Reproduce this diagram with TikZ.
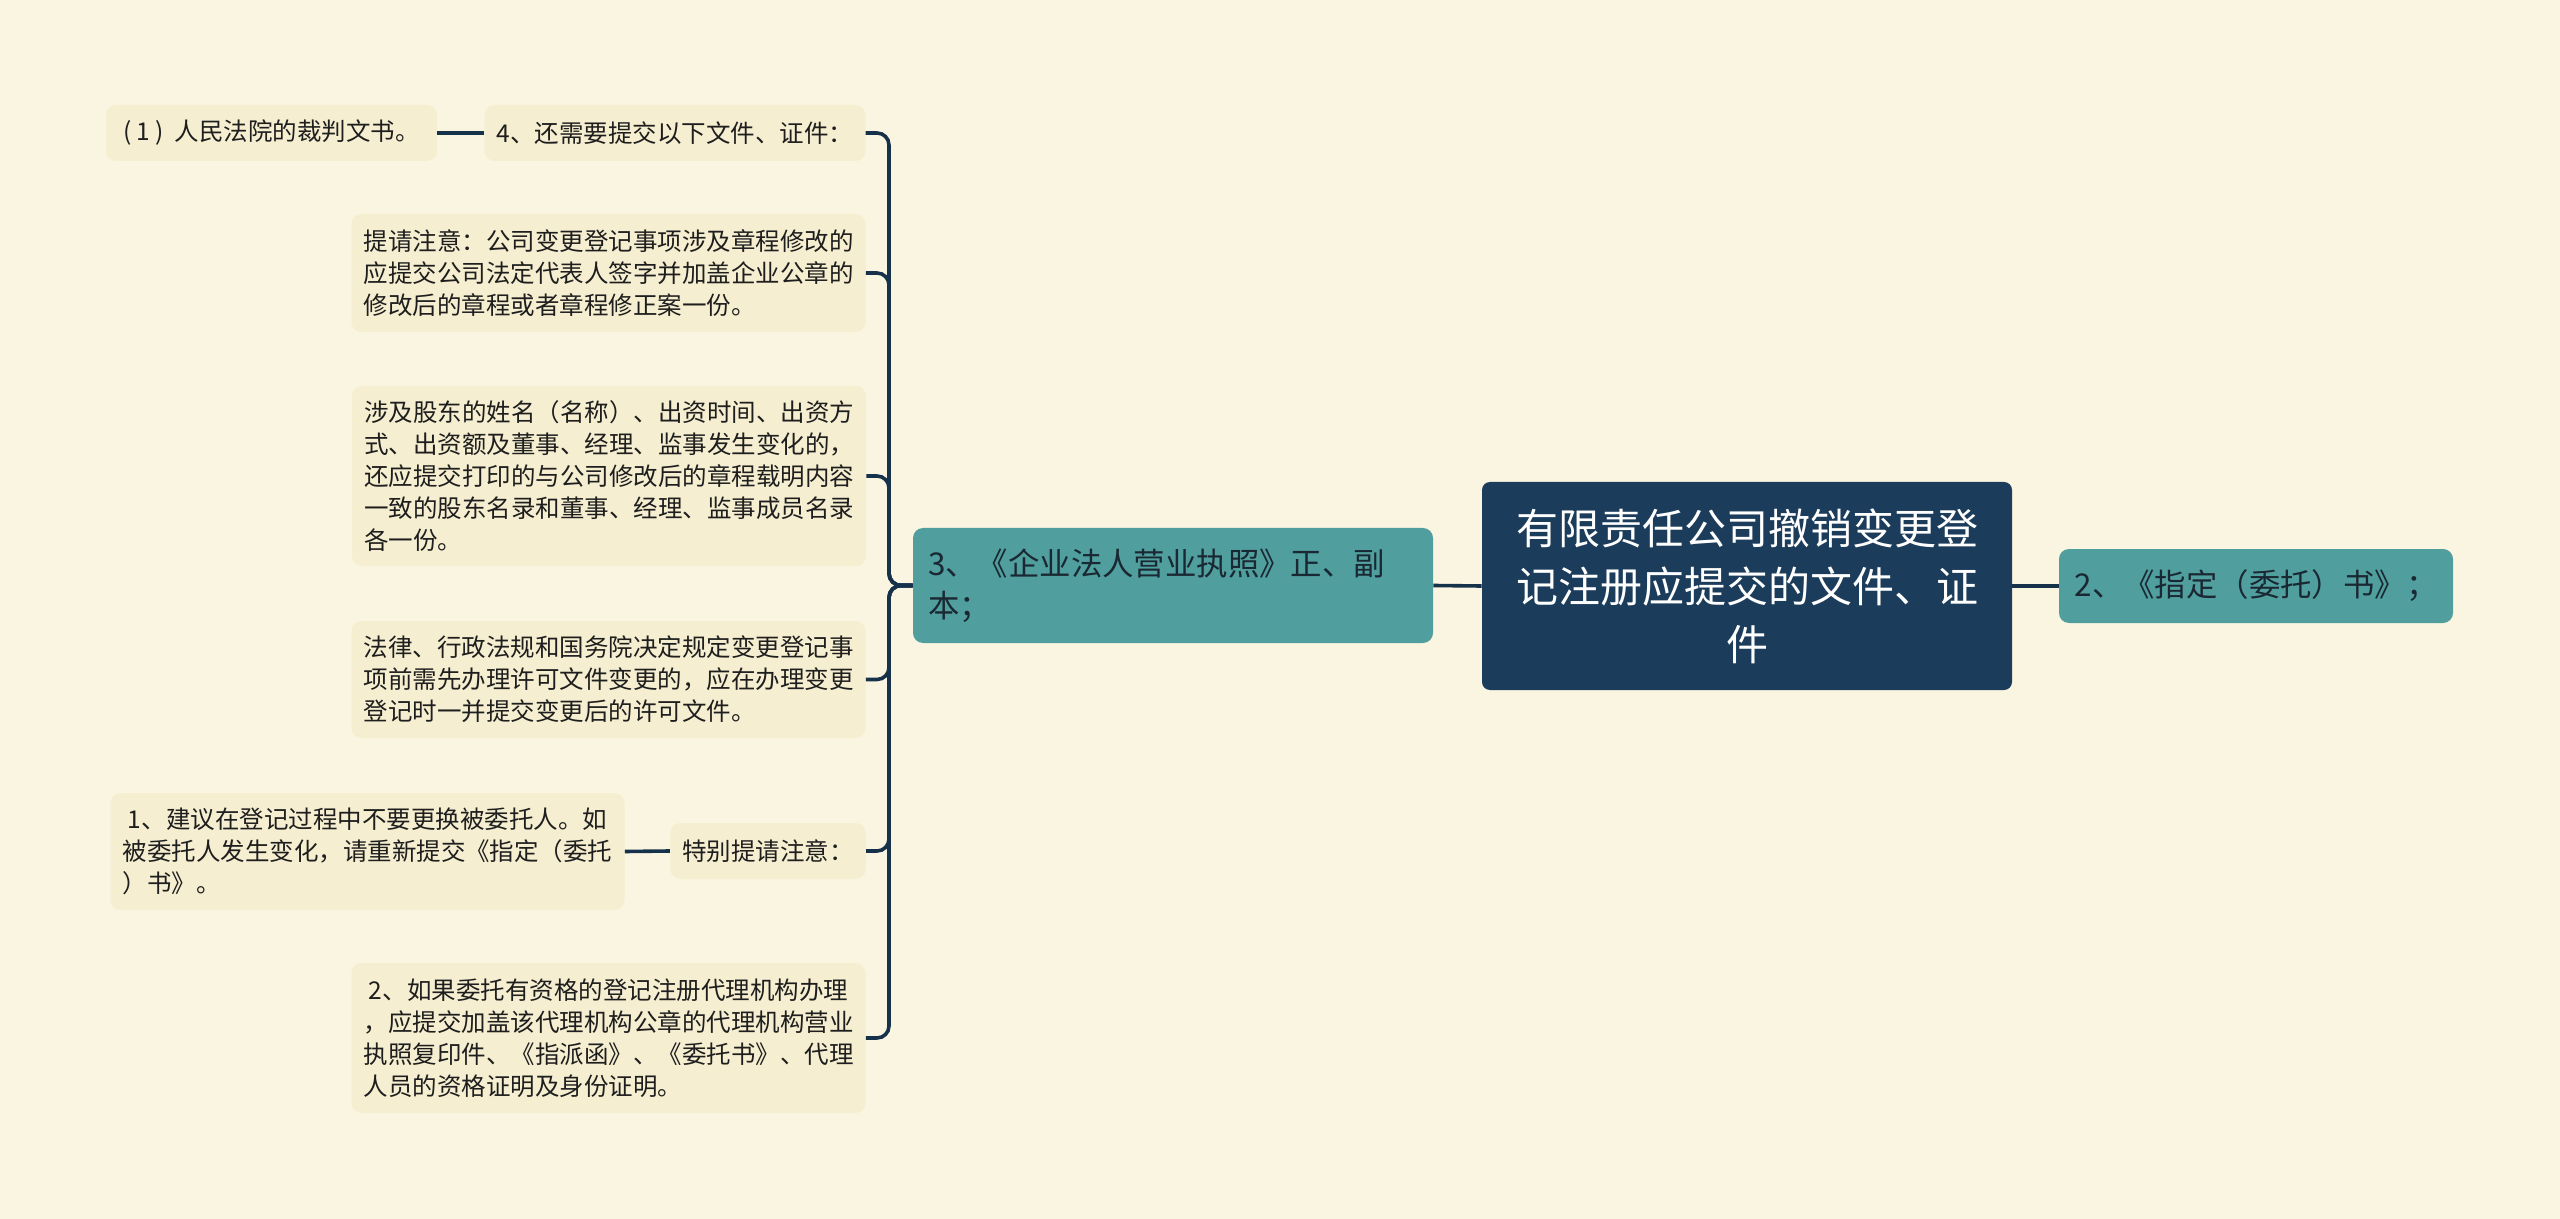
\documentclass[tikz,border=0pt]{standalone}
\usepackage{fontspec}
\setmainfont{Noto Sans CJK SC}
\definecolor{bgc}{RGB}{250,245,225}
\definecolor{leaffill}{RGB}{245,238,208}
\definecolor{leaftext}{RGB}{30,30,30}
\definecolor{rootfill}{RGB}{27,60,90}
\definecolor{tealfill}{RGB}{80,158,158}
\definecolor{tealtext}{RGB}{25,40,50}
\definecolor{linec}{RGB}{22,50,75}
\begin{document}
\begin{tikzpicture}[x=0.5pt,y=-0.5pt,
  leaf/.style={fill=leaffill, rounded corners=5pt, inner xsep=6pt, inner ysep=0pt,
    font=\fontsize{12.25}{16}\selectfont, text=leaftext, align=left},
  tealbox/.style={fill=tealfill, rounded corners=5pt, inner xsep=7.5pt, inner ysep=0pt,
    font=\fontsize{15.7}{21}\selectfont, text=tealtext, align=left},
  rootbox/.style={fill=rootfill, rounded corners=4pt, inner sep=0pt,
    font=\fontsize{21}{29}\selectfont, text=white, align=center},
  conn/.style={draw=linec, line width=1.8pt},
  branch/.style={conn, rounded corners=6pt}]
\fill[bgc] (0,0) rectangle (2560,1219);
\useasboundingbox (0,0) rectangle (2560,1219);

\node[rootbox, minimum width=265pt, minimum height=104pt] (R) at (1747,586)
  {有限责任公司撤销变更登\\记注册应提交的文件、证\\件};
\node[tealbox, text width=245pt, minimum height=57.5pt] (N3) at (1173,585.5)
  {3、《企业法人营业执照》正、副\\本；};
\node[tealbox, inner xsep=4pt, minimum width=197pt, minimum height=37pt] (N2) at (2256,586)
  {2、《指定（委托）书》；};

\node[leaf, align=center, minimum width=165.5pt, minimum height=28pt] (A) at (271.5,133)
  {(\hspace{2.5pt}1\hspace{2.5pt})\hspace{5.5pt}人民法院的裁判文书。};
\node[leaf, align=center, minimum width=190pt, minimum height=28pt] (B) at (675,133)
  {4、还需要提交以下文件、证件：};
\node[leaf, minimum width=256.5pt, minimum height=59pt] (C) at (608.5,273)
  {提请注意：公司变更登记事项涉及章程修改的\\应提交公司法定代表人签字并加盖企业公章的\\修改后的章程或者章程修正案一份。};
\node[leaf, minimum width=257pt, minimum height=90pt] (D) at (609,476)
  {涉及股东的姓名（名称）、出资时间、出资方\\式、出资额及董事、经理、监事发生变化的，\\还应提交打印的与公司修改后的章程载明内容\\一致的股东名录和董事、经理、监事成员名录\\各一份。};
\node[leaf, minimum width=256.5pt, minimum height=58.5pt] (E) at (608.5,679.5)
  {法律、行政法规和国务院决定规定变更登记事\\项前需先办理许可文件变更的，应在办理变更\\登记时一并提交变更后的许可文件。};
\node[leaf, align=center, minimum width=97pt, minimum height=28pt] (F) at (768,851)
  {特别提请注意：};
\node[leaf, minimum width=256.5pt, minimum height=58.5pt] (G) at (367.5,851.5)
  {\ 1、建议在登记过程中不要更换被委托人。如\\被委托人发生变化，请重新提交《指定（委托\\）书》。};
\node[leaf, minimum width=256.5pt, minimum height=75pt] (H) at (608.5,1038)
  {\ 2、如果委托有资格的登记注册代理机构办理\\，应提交加盖该代理机构公章的代理机构营业\\执照复印件、《指派函》、《委托书》、代理\\人员的资格证明及身份证明。};

\draw[conn] (R.east) -- (N2.west);
\draw[conn] (R.west) -- (N3.east);
\coordinate (T) at (889,585.5);
\foreach \c in {B,C,D,E,F,H}
  \draw[branch] (N3.west) -- (T) |- (\c.east);
\draw[conn] (B.west) -- (A.east);
\draw[conn] (F.west) -- (G.east);
\end{tikzpicture}
\end{document}
